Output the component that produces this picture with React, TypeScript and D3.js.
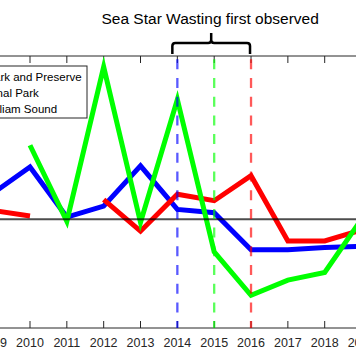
import React from "react";
import * as d3 from "d3";

const years = [2009, 2010, 2011, 2012, 2013, 2014, 2015, 2016, 2017, 2018, 2019];
const katmai: (number | null)[] = [0.24, 0.48, 0.02, 0.12, 0.49, 0.09, 0.06, -0.28, -0.28, -0.26, -0.25];
const kenai: (number | null)[] = [0.08, 0.03, null, 0.18, -0.11, 0.23, 0.17, 0.4, -0.2, -0.2, -0.1];
const wpws: (number | null)[] = [null, 0.68, -0.02, 1.4, -0.03, 1.1, -0.3, -0.7, -0.56, -0.49, 0.0];
const seriesNames = ["Katmai National Park and Preserve", "Kenai Fjords National Park", "Western Prince William Sound"];
const seriesColors = ["#0000ff", "#ff0000", "#00ff00"];
const wastingYears = [2014, 2015, 2016];
const tickYears = [2008, 2009, 2010, 2011, 2012, 2013, 2014, 2015, 2016, 2017, 2018, 2019, 2020];
const annotation = "Sea Star Wasting first observed";

const W = 356;
const H = 364;
const FONT = "'Liberation Sans', Arial, Helvetica, sans-serif";
const AX = "#262626";

export default function App() {
  const x = d3.scaleLinear().domain([2010, 2018]).range([30, 324.7]);
  const y = d3.scaleLinear().domain([-1, 1.5]).range([328, 56]);
  const top = y(1.5);
  const bottom = y(-1);
  const series = [katmai, kenai, wpws];
  const line = d3
    .line<number | null>()
    .defined((d) => d !== null)
    .x((_, i) => x(years[i]))
    .y((d) => y(d as number));

  const L = x(2014) - 5;
  const R = x(2016) - 1;
  const C = (L + R) / 2;
  const yb = 43, ye = 54, yt = 33;
  const brace = `M${L},${ye} V${yb + 3} Q${L},${yb} ${L + 3},${yb} H${C - 3} Q${C},${yb} ${C},${yb - 3} V${yt} M${C},${yb - 3} Q${C},${yb} ${C + 3},${yb} H${R - 3} Q${R},${yb} ${R},${yb + 3} V${ye}`;

  const legendX0 = -98;
  return (
    <svg width={W} height={H} style={{ position: "absolute", left: 0, top: 0, display: "block", background: "#fff" }} fontFamily={FONT}>
      <defs>
        <clipPath id="plot">
          <rect x={-100} y={top} width={600} height={bottom - top} />
        </clipPath>
      </defs>
      <rect x={0} y={0} width={W} height={H} fill="#fff" />
      {/* axes lines */}
      <line x1={-50} x2={W + 50} y1={top} y2={top} stroke={AX} strokeWidth={1} />
      <line x1={-50} x2={W + 50} y1={bottom} y2={bottom} stroke={AX} strokeWidth={1} />
      {tickYears.map((t) => (
        <g key={t}>
          <line x1={x(t)} x2={x(t)} y1={bottom} y2={bottom - 7} stroke={AX} strokeWidth={1} />
          <line x1={x(t)} x2={x(t)} y1={top} y2={top + 7} stroke={AX} strokeWidth={1} />
          <text x={x(t)} y={347} textAnchor="middle" fontSize={12.5} fill={AX}>
            {t}
          </text>
        </g>
      ))}
      <g clipPath="url(#plot)">
        {series.map((s, i) => (
          <path key={i} d={line(s) || ""} fill="none" stroke={seriesColors[i]} strokeWidth={5} strokeLinejoin="miter" strokeMiterlimit={10} strokeLinecap="butt" />
        ))}
        <line x1={-50} x2={W + 50} y1={y(0)} y2={y(0)} stroke="#000" strokeOpacity={0.7} strokeWidth={2} />
        {wastingYears.map((wy, i) => (
          <line key={wy} x1={x(wy)} x2={x(wy)} y1={top} y2={bottom} stroke={seriesColors[i === 0 ? 0 : i === 1 ? 2 : 1]} strokeOpacity={0.65} strokeWidth={2.3} strokeDasharray="10 8.7" strokeDashoffset={15.4} />
        ))}
      </g>
      {/* legend */}
      <rect x={-200} y={66} width={287} height={52} fill="#fff" stroke={AX} strokeWidth={1} />
      {seriesNames.map((n, i) => (
        <g key={n}>
          <line x1={-140} x2={-105} y1={77 + i * 16} y2={77 + i * 16} stroke={seriesColors[i]} strokeWidth={5} />
          <text x={legendX0} y={81 + i * 16} fontSize={11.5} fill="#000">
            {n}
          </text>
        </g>
      ))}
      {/* annotation */}
      <path d={brace} fill="none" stroke="#000" strokeWidth={2.5} />
      <text x={C - 1} y={24} textAnchor="middle" fontSize={15.5} fill="#000">
        {annotation}
      </text>
    </svg>
  );
}
